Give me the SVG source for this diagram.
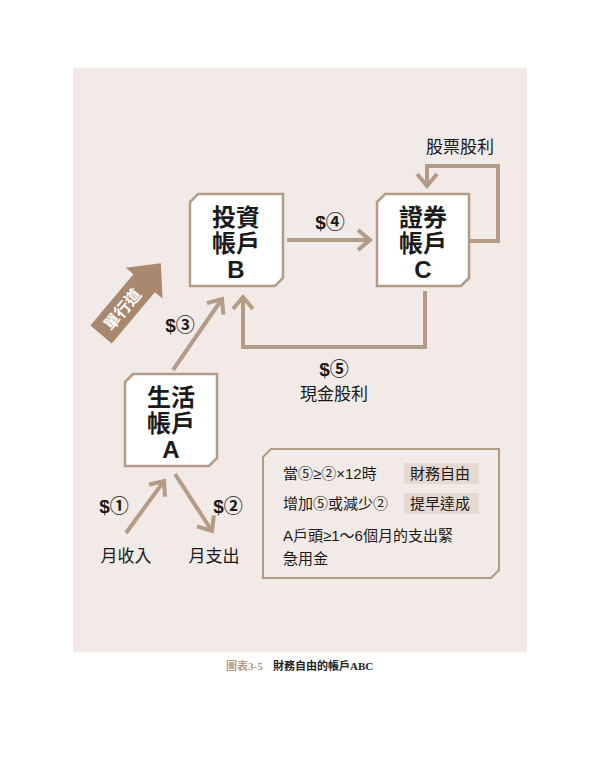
<svg xmlns="http://www.w3.org/2000/svg" width="600" height="779" viewBox="0 0 600 779">
<style>
.box{fill:#fff;stroke:#b49b86;stroke-width:2.5}
.ln{fill:none;stroke:#b49b86;stroke-width:4}
.t{font-family:"Liberation Sans","Noto Sans CJK TC",sans-serif;fill:#1a1a1a}
.bt{font-size:24px;font-weight:bold;text-anchor:middle}
.lb{font-size:19px;font-weight:bold;text-anchor:middle}
.nt{font-size:17px}
.sm{font-size:15px}
</style>
<defs>
<marker id="ah" markerWidth="6" markerHeight="6" refX="4" refY="3" orient="auto" markerUnits="strokeWidth">
<path d="M1,0.5 L4,3 L1,5.5" fill="none" stroke="#b49b86" stroke-width="1"/>
</marker>
</defs>
<rect x="0" y="0" width="600" height="779" fill="#fff"/>
<rect x="73" y="68" width="454" height="584" fill="#f2eae6"/>
<g id="connectors">
<line class="ln" x1="287" y1="240" x2="370" y2="240" marker-end="url(#ah)"/>
<path class="ln" d="M470,241 H498 V166 H427 V186" marker-end="url(#ah)"/>
<path class="ln" d="M425,291 V347 H243 V297" marker-end="url(#ah)"/>
<line class="ln" x1="173" y1="370" x2="222" y2="299" marker-end="url(#ah)"/>
<line class="ln" x1="126" y1="533" x2="164" y2="481" marker-end="url(#ah)"/>
<line class="ln" x1="175" y1="474" x2="212" y2="531" marker-end="url(#ah)"/>
</g>
<g id="oneway">
<g transform="translate(130,300) rotate(-50)">
<polygon points="-45,-14 22,-14 22,-24 48,0 22,24 22,14 -45,14" fill="#a8896f"/>
<text class="t" x="-12" y="6" font-size="16" font-weight="bold" style="fill:#fff" text-anchor="middle">單行道</text>
</g>
</g>
<g id="B">
<polygon class="box" points="198,194 283,194 283,278 275,286 190,286 190,202"/>
<text class="t bt" x="236" y="226">投資</text>
<text class="t bt" x="236" y="252">帳戶</text>
<text class="t bt" x="236" y="278">B</text>
</g>
<g id="C">
<polygon class="box" points="385,194 469,194 469,278 461,286 377,286 377,202"/>
<text class="t bt" x="423" y="226">證券</text>
<text class="t bt" x="423" y="252">帳戶</text>
<text class="t bt" x="423" y="278">C</text>
</g>
<g id="A">
<polygon class="box" points="133,374 217,374 217,458 209,466 125,466 125,382"/>
<text class="t bt" x="171" y="406">生活</text>
<text class="t bt" x="171" y="432">帳戶</text>
<text class="t bt" x="171" y="458">A</text>
</g>
<g id="labels">
<text class="t nt" x="460" y="153" text-anchor="middle">股票股利</text>
<text class="t lb" x="330" y="229">$④</text>
<text class="t lb" x="180" y="332">$③</text>
<text class="t lb" x="334" y="376">$⑤</text>
<text class="t nt" x="334" y="400" text-anchor="middle">現金股利</text>
<text class="t lb" x="114" y="513">$①</text>
<text class="t lb" x="228" y="513">$②</text>
<text class="t nt" x="126" y="562" text-anchor="middle">月收入</text>
<text class="t nt" x="214" y="562" text-anchor="middle">月支出</text>
</g>
<g id="note">
<polygon points="271,449 499,449 499,570 491,578 263,578 263,457" fill="none" stroke="#b49b86" stroke-width="2"/>
<rect x="404" y="463" width="75" height="21" fill="#e6d9d1"/>
<rect x="404" y="493" width="75" height="21" fill="#e6d9d1"/>
<text class="t sm" x="283" y="479">當⑤≥②×12時</text>
<text class="t sm" x="410" y="479">財務自由</text>
<text class="t sm" x="283" y="509">增加⑤或減少②</text>
<text class="t sm" x="410" y="509">提早達成</text>
<text class="t sm" x="283" y="541">A戶頭≥1～6個月的支出緊</text>
<text class="t sm" x="283" y="564">急用金</text>
</g>
<g id="caption">
<text x="226" y="670" font-family="'Liberation Serif','Noto Sans CJK TC',serif" font-size="11" font-weight="bold" fill="#b49b86">圖表3-5</text>
<text x="273" y="670" font-family="'Liberation Serif','Noto Sans CJK TC',serif" font-size="11" font-weight="bold" fill="#222">財務自由的帳戶ABC</text>
</g>
</svg>
